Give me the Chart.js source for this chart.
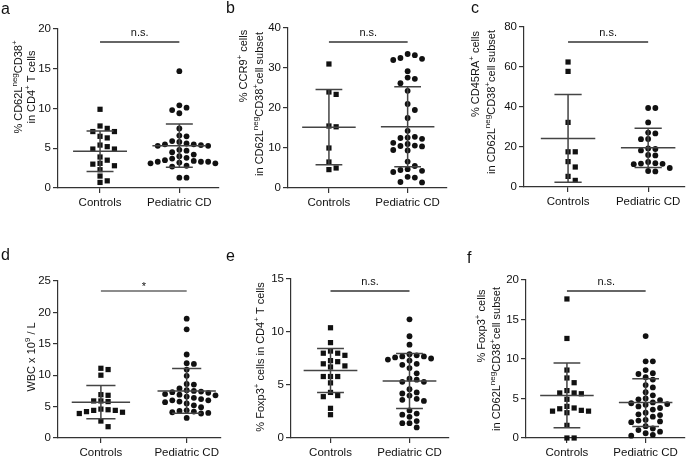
<!DOCTYPE html>
<html>
<head>
<meta charset="utf-8">
<script src="https://cdn.jsdelivr.net/npm/chart.js@4.4.0/dist/chart.umd.min.js"></script>
<style>
  body { margin: 0; background: #fff; }
  #fig { position: relative; width: 689px; height: 466px; }
  #fig canvas { position: absolute; }
</style>
</head>
<body>
<div id="fig">
  <canvas id="panelA" width="225" height="230" style="left:0;top:0"></canvas>
  <canvas id="panelB" width="230" height="230" style="left:225px;top:0"></canvas>
  <canvas id="panelC" width="234" height="230" style="left:455px;top:0"></canvas>
  <canvas id="panelD" width="225" height="236" style="left:0;top:230px"></canvas>
  <canvas id="panelE" width="230" height="236" style="left:225px;top:230px"></canvas>
  <canvas id="panelF" width="234" height="236" style="left:455px;top:230px"></canvas>
</div>
<script>
const groups = ['Controls', 'Pediatric CD'];

// a: % CD62L-neg CD38+ in CD4+ T cells
const aControls = [9.9, 7.8, 7.5, 7.1, 7.1, 6.5, 6.3, 5.4, 5.2, 4.9, 4.9, 3.9, 3.5, 3.1, 3.0, 2.8, 2.3, 1.5, 0.9, 0.7];
const aPediatric = [14.7, 10.4, 10.1, 9.8, 9.4, 7.5, 6.6, 6.5, 5.9, 5.8, 5.6, 5.5, 5.5, 5.4, 5.3, 5.3, 4.8, 4.7,
  4.5, 4.2, 4.0, 3.8, 3.7, 3.5, 3.4, 3.3, 3.3, 3.3, 3.2, 3.1, 3.1, 2.8, 2.7, 1.3, 1.3];
const aMean = [4.62, 5.33];
const aSD = [2.56, 2.73];
const aTicks = [0, 5, 10, 15, 20];

// b: % CCR9+ in CD62L-neg CD38+ subset
const bControls = [31.0, 24.0, 23.4, 15.5, 15.3, 10.0, 6.5, 5.0, 4.6];
const bPediatric = [33.5, 33.2, 32.5, 32.3, 32.0, 29.2, 27.6, 27.3, 26.2, 24.3, 21.0, 19.5, 17.5, 14.3, 12.8, 12.6,
  12.5, 12.3, 11.3, 11.0, 10.6, 10.5, 10.4, 9.5, 9.4, 6.6, 5.5, 4.7, 4.5, 4.3, 4.0, 2.8, 2.6, 1.5, 1.4];
const bMean = [15.2, 15.3];
const bSD = [9.4, 10.0];
const bTicks = [0, 10, 20, 30, 40];

// c: % CD45RA+ in CD62L-neg CD38+ subset
const cControls = [62.5, 57.8, 32.3, 17.6, 17.6, 12.7, 10.0, 5.3, 3.3];
const cPediatric = [39.5, 39.5, 32.3, 27.2, 26.8, 24.0, 23.9, 19.3, 19.0, 18.3, 16.0, 15.8, 12.5, 11.9, 11.7,
  11.6, 11.4, 9.5, 8.0, 7.8];
const cMean = [24.3, 19.6];
const cSD = [21.9, 9.8];
const cTicks = [0, 20, 40, 60, 80];

// d: WBC x 10^9 / L
const dControls = [11.1, 10.9, 10.0, 6.9, 6.8, 5.9, 5.9, 5.8, 4.6, 4.5, 4.4, 4.4, 4.2, 4.1, 3.9, 2.7, 1.8];
const dPediatric = [19.0, 17.3, 13.3, 11.9, 11.8, 10.9, 9.9, 8.6, 8.5, 7.9, 7.6, 7.5, 7.4, 7.3, 7.2, 7.0, 6.9,
  6.8, 6.6, 6.4, 6.2, 6.0, 6.0, 5.8, 5.7, 5.5, 5.2, 4.9, 4.4, 4.3, 4.2, 4.1, 4.0, 3.9, 3.2];
const dMean = [5.71, 7.5];
const dSD = [2.64, 3.55];
const dTicks = [0, 5, 10, 15, 20, 25];

// e: % Foxp3+ in CD4+ T cells
const eControls = [10.4, 9.0, 8.2, 8.0, 8.0, 7.8, 7.3, 7.2, 7.0, 6.8, 6.7, 5.8, 5.8, 5.8, 5.2, 4.3, 4.0, 3.9, 2.8, 2.2];
const ePediatric = [11.2, 9.6, 8.8, 7.9, 7.8, 7.7, 7.7, 7.6, 7.5, 7.4, 7.3, 7.0, 6.9, 6.6, 6.1, 5.6, 5.5, 5.3,
  5.3, 4.6, 4.3, 4.2, 4.0, 3.7, 3.6, 3.5, 2.6, 2.3, 2.2, 2.0, 1.6, 1.4, 1.4, 1.0];
const eMean = [6.37, 5.37];
const eSD = [2.07, 2.59];
const eTicks = [0, 5, 10, 15];

// f: % Foxp3+ in CD62L-neg CD38+ subset
const fControls = [17.6, 12.6, 8.6, 7.6, 7.0, 6.0, 5.7, 5.7, 5.6, 4.9, 4.0, 3.8, 3.7, 3.5, 3.4, 3.4, 3.2, 1.6, 0, 0];
const fPediatric = [12.9, 9.7, 9.7, 8.6, 8.2, 8.1, 7.7, 7.4, 6.7, 6.4, 5.8, 5.4, 5.0, 4.9, 4.8, 4.5, 4.4, 4.3,
  4.2, 4.0, 3.8, 3.6, 3.2, 3.0, 2.9, 2.7, 2.3, 2.2, 2.1, 2.0, 1.5, 1.2, 1.0, 0.8, 0.6, 0.4, 0.3];
const fMean = [5.39, 4.48];
const fSD = [4.09, 3.01];
const fTicks = [0, 5, 10, 15, 20];

const FONT = '"Liberation Sans", Arial, sans-serif';
const AXIS = '#333';
const INK = '#111';
const COL_STEP = 7.2;   // px between swarm columns
const ROW_GAP = 6.2;    // px, points closer than this share a row
const MEAN_HALF = 0.34; // x units
const CAP_HALF = 0.17;

// area = chart area [left, top, right, bottom] in canvas px
const panels = [
  { id: 'panelA', letter: 'a', letterAt: [1, 14], controls: aControls, pediatric: aPediatric, mean: aMean, sd: aSD,
    ticks: aTicks, area: [58, 29, 219, 188], xRange: [-0.03, 2.0], sig: 'n.s.', sigGap: 13,
    title: [['% CD62L^{neg}CD38^{+}', 18, 87], ['in CD4^{+} T cells', 31, 87]] },
  { id: 'panelB', letter: 'b', letterAt: [1, 13], controls: bControls, pediatric: bPediatric, mean: bMean, sd: bSD,
    ticks: bTicks, area: [63, 28, 222, 188], xRange: [-0.02, 2.0], sig: 'n.s.', sigGap: 14,
    title: [['% CCR9^{+} cells', 18, 66], ['in CD62L^{neg}CD38^{+}cell subset', 34, 104]] },
  { id: 'panelC', letter: 'c', letterAt: [16, 13], controls: cControls, pediatric: cPediatric, mean: cMean, sd: cSD,
    ticks: cTicks, area: [69, 27, 230, 187], xRange: [-0.05, 1.96], sig: 'n.s.', sigGap: 15,
    title: [['% CD45RA^{+} cells', 20, 74], ['in CD62L^{neg}CD38^{+}cell subset', 36, 102]] },
  { id: 'panelD', letter: 'd', letterAt: [1, 30], controls: dControls, pediatric: dPediatric, mean: dMean, sd: dSD,
    ticks: dTicks, area: [58, 51, 223, 208], xRange: [0, 1.9], sig: '*', sigGap: 10,
    title: [['WBC x 10^{9} / L', 31, 127]] },
  { id: 'panelE', letter: 'e', letterAt: [1, 31], controls: eControls, pediatric: ePediatric, mean: eMean, sd: eSD,
    ticks: eTicks, area: [66, 49, 224, 208], xRange: [0, 2.0], sig: 'n.s.', sigGap: 12,
    title: [['% Foxp3^{+} cells in CD4^{+} T cells', 35, 127]] },
  { id: 'panelF', letter: 'f', letterAt: [12, 33], controls: fControls, pediatric: fPediatric, mean: fMean, sd: fSD,
    ticks: fTicks, area: [71, 50, 230, 208], xRange: [-0.02, 2.0], sig: 'n.s.', sigGap: 11,
    title: [['% Foxp3^{+} cells', 26, 96], ['in CD62L^{neg}CD38^{+}cell subset', 41, 129]] }
];
const panelById = {};
panels.forEach(p => { panelById[p.id] = p; });

// rotated axis title with ^{...} superscripts, centred on (cx, cy)
function drawRichTitle(ctx, text, cx, cy) {
  const parts = text.split(/\^\{([^}]*)\}/);
  const fontFor = i => (i % 2 ? '8px ' : '11px ') + FONT;
  let w = 0;
  parts.forEach((t, i) => { ctx.font = fontFor(i); w += ctx.measureText(t).width; });
  ctx.save();
  ctx.translate(cx, cy);
  ctx.rotate(-Math.PI / 2);
  ctx.fillStyle = INK;
  ctx.textBaseline = 'alphabetic';
  ctx.textAlign = 'left';
  let x = -w / 2;
  parts.forEach((t, i) => {
    ctx.font = fontFor(i);
    ctx.fillText(t, x, i % 2 ? -1.5 : 4);
    x += ctx.measureText(t).width;
  });
  ctx.restore();
}

const panelDeco = {
  id: 'panelDeco',
  afterDatasetsDraw(chart) {
    const p = panelById[chart.canvas.id];
    const ctx = chart.ctx, xs = chart.scales.x, ys = chart.scales.y;
    ctx.save();
    ctx.strokeStyle = '#444';
    ctx.lineWidth = 1.5;
    [0.5, 1.5].forEach((c, i) => {
      const m = p.mean[i], s = p.sd[i];
      const yM = ys.getPixelForValue(m);
      const yHi = ys.getPixelForValue(m + s);
      const yLo = ys.getPixelForValue(m - s);
      const x = d => xs.getPixelForValue(c + d);
      ctx.beginPath();
      ctx.moveTo(x(-MEAN_HALF), yM); ctx.lineTo(x(MEAN_HALF), yM);
      ctx.moveTo(x(-CAP_HALF), yHi); ctx.lineTo(x(CAP_HALF), yHi);
      ctx.moveTo(x(-CAP_HALF), yLo); ctx.lineTo(x(CAP_HALF), yLo);
      ctx.moveTo(x(0), yHi); ctx.lineTo(x(0), yLo);
      ctx.stroke();
    });
    ctx.restore();
  },
  afterDraw(chart) {
    const p = panelById[chart.canvas.id];
    const ctx = chart.ctx, xs = chart.scales.x;
    ctx.save();
    // panel letter
    ctx.fillStyle = INK;
    ctx.font = '16px ' + FONT;
    ctx.textAlign = 'left';
    ctx.textBaseline = 'alphabetic';
    ctx.fillText(p.letter, p.letterAt[0], p.letterAt[1]);
    // significance bar
    const y = chart.chartArea.top + p.sigGap;
    const x0 = xs.getPixelForValue(0.5), x1 = xs.getPixelForValue(1.5);
    ctx.strokeStyle = p.sig === '*' ? '#666' : AXIS;
    ctx.lineWidth = 1.3;
    ctx.beginPath();
    ctx.moveTo(x0, y); ctx.lineTo(x1, y);
    ctx.stroke();
    ctx.font = '11px ' + FONT;
    ctx.textAlign = 'center';
    ctx.fillText(p.sig, (x0 + x1) / 2, p.sig === '*' ? y - 1 : y - 6);
    ctx.restore();
    p.title.forEach(([t, cx, cy]) => drawRichTitle(ctx, t, cx, cy));
  }
};

// spread points sideways in fixed columns so that markers do not overlap
function swarm(chart) {
  const xs = chart.scales.x, ys = chart.scales.y;
  const unit = xs.getPixelForValue(1) - xs.getPixelForValue(0);
  chart.data.datasets.forEach(ds => {
    const pts = ds.values.map(v => ({ v, py: ys.getPixelForValue(v) })).sort((a, b) => b.v - a.v);
    const placed = [];
    pts.forEach(pt => {
      for (let k = 0; k < 40; k++) {
        const col = k === 0 ? 0 : (k % 2 ? (k + 1) / 2 : -k / 2);
        if (!placed.some(q => q.col === col && Math.abs(q.py - pt.py) < ROW_GAP)) {
          pt.col = col;
          placed.push(pt);
          break;
        }
      }
    });
    ds.data = pts.map(pt => ({ x: ds.center + pt.col * COL_STEP / unit, y: pt.v }));
  });
  chart.update('none');
}

Chart.defaults.font.family = FONT;
Chart.defaults.font.size = 11.5;
Chart.defaults.color = INK;

function makePanel(p) {
  const canvas = document.getElementById(p.id);
  const W = canvas.width, H = canvas.height;
  const [L, T, R, B] = p.area;
  const axisStyle = {
    grid: { drawOnChartArea: false, drawTicks: true, tickLength: 5, color: AXIS, lineWidth: 1.2 },
    border: { color: AXIS, width: 1.2 }
  };
  const chart = new Chart(canvas, {
    type: 'scatter',
    data: {
      datasets: [
        { label: groups[0], values: p.controls, center: 0.5, data: p.controls.map(v => ({ x: 0.5, y: v })),
          pointStyle: 'rect', pointRadius: 3.7, pointBorderWidth: 0, backgroundColor: INK, clip: false },
        { label: groups[1], values: p.pediatric, center: 1.5, data: p.pediatric.map(v => ({ x: 1.5, y: v })),
          pointStyle: 'circle', pointRadius: 2.9, pointBorderWidth: 0, backgroundColor: INK, clip: false }
      ]
    },
    options: {
      responsive: false,
      animation: false,
      events: [],
      layout: { padding: { left: 0, top: T, right: W - R, bottom: 0 } },
      plugins: { legend: { display: false }, tooltip: { enabled: false } },
      scales: {
        x: {
          type: 'linear', min: p.xRange[0], max: p.xRange[1],
          afterBuildTicks: s => { s.ticks = [{ value: 0.5 }, { value: 1.5 }]; },
          afterFit: s => { s.height = H - B; },
          ticks: { callback: (v, i) => groups[i], padding: 3, maxRotation: 0, autoSkip: false },
          ...axisStyle
        },
        y: {
          min: p.ticks[0], max: p.ticks[p.ticks.length - 1],
          afterBuildTicks: s => { s.ticks = p.ticks.map(v => ({ value: v })); },
          afterFit: s => { s.width = L; },
          ticks: { padding: 2 },
          ...axisStyle
        }
      }
    },
    plugins: [panelDeco]
  });
  swarm(chart);
  return chart;
}

panels.forEach(makePanel);
</script>
</body>
</html>
